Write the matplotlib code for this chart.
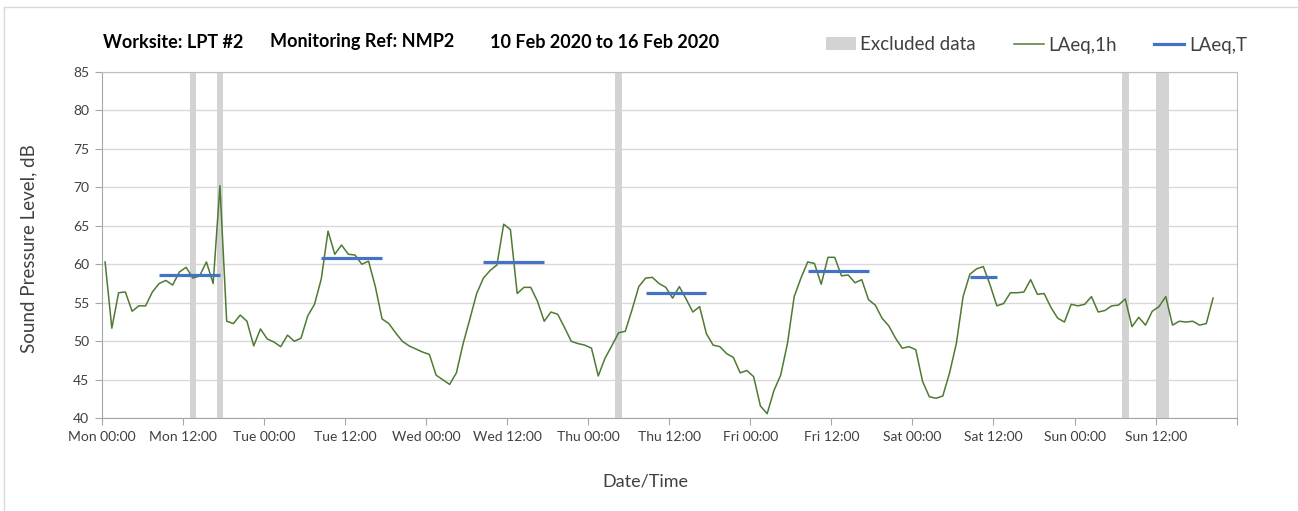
import matplotlib
matplotlib.use("Agg")
import matplotlib.pyplot as plt
import numpy as np
from matplotlib.lines import Line2D
from matplotlib.patches import Patch

plt.rcParams["font.family"] = ["Lato", "DejaVu Sans"]

# hourly LAeq,1h values, one per hour starting Mon 00:00
laeq_1h = [
    60.3, 51.7, 56.3, 56.4, 53.9, 54.6, 54.6, 56.4, 57.5, 57.9,
    57.3, 59.0, 59.6, 58.2, 58.5, 60.3, 57.5, 70.2, 52.6, 52.3,
    53.4, 52.6, 49.4, 51.6, 50.3, 49.9, 49.3, 50.8, 50.0, 50.4,
    53.3, 54.8, 58.1, 64.3, 61.3, 62.5, 61.3, 61.2, 60.0, 60.4,
    57.1, 52.9, 52.3, 51.1, 50.0, 49.4, 49.0, 48.6, 48.3, 45.6,
    45.0, 44.4, 45.9, 49.7, 52.9, 56.2, 58.2, 59.2, 59.9, 65.2,
    64.5, 56.2, 57.0, 57.0, 55.2, 52.6, 53.8, 53.5, 51.8, 50.0,
    49.7, 49.5, 49.1, 45.5, 47.8, 49.4, 51.1, 51.3, 54.1, 57.1,
    58.2, 58.3, 57.5, 57.0, 55.6, 57.1, 55.5, 53.8, 54.5, 51.0,
    49.5, 49.3, 48.4, 47.9, 45.9, 46.2, 45.4, 41.6, 40.6, 43.6,
    45.6, 49.7, 55.8, 58.2, 60.3, 60.1, 57.4, 60.9, 60.9, 58.5,
    58.6, 57.6, 58.0, 55.4, 54.7, 53.0, 52.0, 50.4, 49.1, 49.3,
    48.9, 44.8, 42.8, 42.6, 42.9, 45.9, 49.7, 55.8, 58.7, 59.4,
    59.7, 57.3, 54.6, 54.9, 56.3, 56.3, 56.4, 58.0, 56.1, 56.2,
    54.4, 53.0, 52.5, 54.8, 54.6, 54.8, 55.8, 53.8, 54.0, 54.6,
    54.7, 55.5, 51.9, 53.1, 52.1, 53.9, 54.5, 55.8, 52.1, 52.6,
    52.5, 52.6, 52.1, 52.3, 55.6,
]

# daytime LAeq,T periods (hours from Mon 00:00)
laeq_t_start = [8.5, 32.5, 56.5, 80.5, 104.5, 128.5]
laeq_t_end = [17.5, 41.5, 65.5, 89.5, 113.5, 132.5]
laeq_t_value = [58.6, 60.8, 60.3, 56.3, 59.1, 58.3]

# excluded data windows (hours from Mon 00:00)
excl_start = [13, 17, 76, 151, 156]
excl_end = [14, 18, 77, 152, 158]

days = ["Mon", "Tue", "Wed", "Thu", "Fri", "Sat", "Sun"]
tick_labels = [f"{d} {t}" for d in days for t in ("00:00", "12:00")] + [""]

GREEN = "#4e7a33"
BLUE = "#4472c4"
BAND = "#d3d3d3"
GRID = "#d9d9d9"
TXT = "#404040"

fig = plt.figure(figsize=(12.98, 5.11), dpi=100)
ax = fig.add_axes([101.7 / 1298, 1 - 418.3 / 511, 1135 / 1298, 346.6 / 511])

hours = np.arange(len(laeq_1h)) + 0.5

for s, e in zip(excl_start, excl_end):
    ax.axvspan(s, e, color=BAND, lw=0, zorder=1)

ax.plot(hours, laeq_1h, color=GREEN, lw=1.1, zorder=3)
ax.hlines(laeq_t_value, laeq_t_start, laeq_t_end, color=BLUE, lw=2.3, zorder=4)

ax.set_xlim(0, 168)
ax.set_ylim(40, 85)
ax.set_yticks(np.arange(40, 86, 5))
ax.set_xticks(np.arange(0, 169, 12))
ax.set_xticklabels(tick_labels)
ax.set_xticks(np.arange(0, 169, 24), minor=True)
ax.tick_params(axis="x", which="minor", length=0)
ax.tick_params(axis="both", which="major", direction="out", length=5,
               color="#a6a6a6", labelsize=10, labelcolor=TXT, pad=4)
ax.grid(axis="y", color=GRID, lw=1.0, zorder=0)
ax.grid(axis="x", which="minor", color=GRID, lw=1.0, zorder=0)
ax.set_axisbelow(True)

for side in ("left", "bottom"):
    ax.spines[side].set_color("#a6a6a6")
for side in ("top", "right"):
    ax.spines[side].set_color("#bfbfbf")

ax.set_ylabel("Sound Pressure Level, dB", fontsize=13.5, color=TXT)
ax.yaxis.set_label_coords(-0.057, 0.49)
ax.set_xlabel("Date/Time", fontsize=13, color=TXT)
ax.xaxis.set_label_coords(0.479, -0.16)

title_y = 1 - 42 / 511
fig.text(103 / 1298, title_y, "Worksite: LPT #2", fontsize=13,
         fontweight="bold", va="center", ha="left")
fig.text(270 / 1298, title_y, "Monitoring Ref: NMP2", fontsize=13,
         fontweight="bold", va="center", ha="left")
fig.text(490 / 1298, title_y, "10 Feb 2020 to 16 Feb 2020", fontsize=13,
         fontweight="bold", va="center", ha="left")

handles = [
    Patch(facecolor=BAND, edgecolor="none", label="Excluded data"),
    Line2D([], [], color=GREEN, lw=1.1, label="LAeq,1h"),
    Line2D([], [], color=BLUE, lw=2.3, label="LAeq,T"),
]
leg = fig.legend(handles=handles, loc="center right", ncol=3, frameon=False,
                 bbox_to_anchor=(1247 / 1298, 1 - 45 / 511), fontsize=13.5,
                 handlelength=1.6, handletextpad=0.25, columnspacing=2.0,
                 borderaxespad=0, borderpad=0)
for t in leg.get_texts():
    t.set_color(TXT)

# outer chart frame (left and top edges visible)
fig.add_artist(Line2D([4 / 1298, 4 / 1298], [0, 1 - 7 / 511], color="#d9d9d9", lw=1))
fig.add_artist(Line2D([4 / 1298, 1], [1 - 7 / 511, 1 - 7 / 511], color="#d9d9d9", lw=1))

fig.savefig("out.png", dpi=100, facecolor="white")
